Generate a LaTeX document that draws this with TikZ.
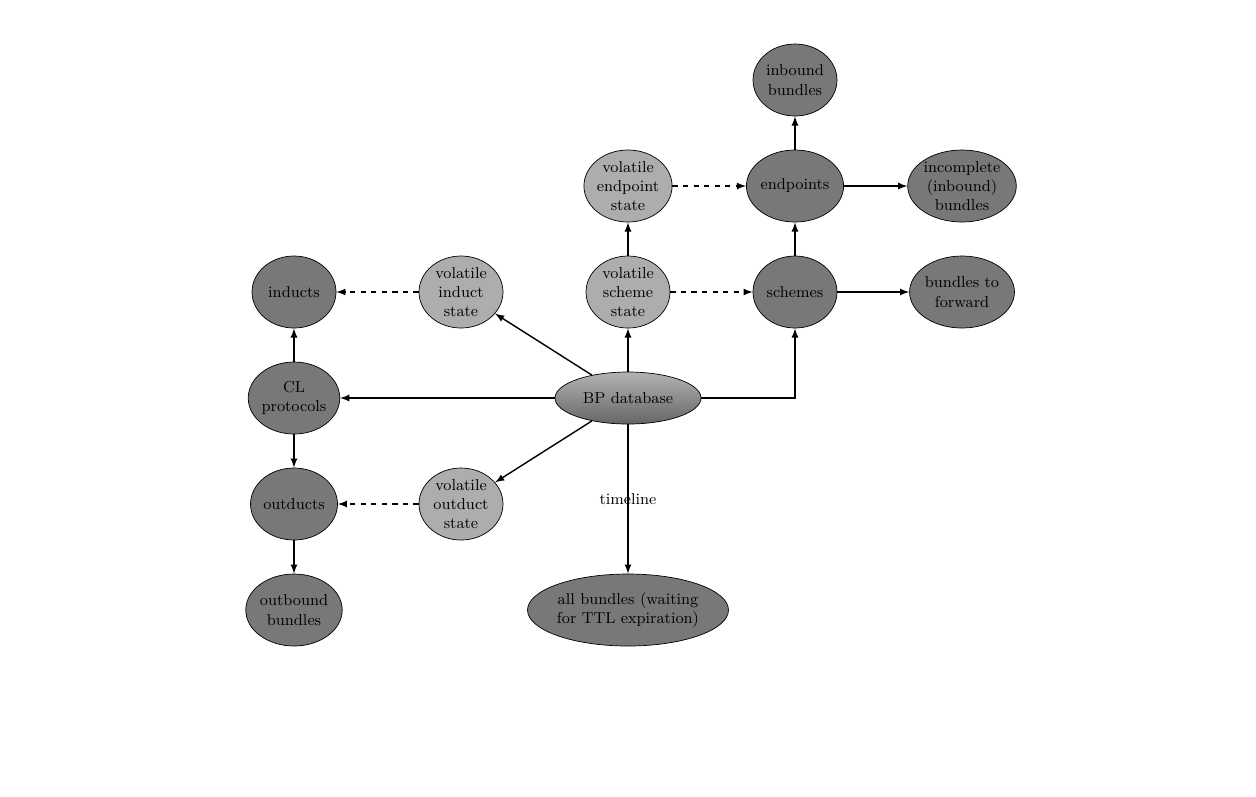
\documentclass[tikz,border=0pt]{standalone}
\usetikzlibrary{shapes.geometric,positioning}

\begin{document}
\begin{tikzpicture}[
    node distance=2.12cm and 3.34cm, on grid,
    every node/.style={ellipse, draw, thin, text=black, align=center, font=\small,
      minimum width=1.68cm, minimum height=1.44cm, inner sep=0pt},
    store/.style={fill=black!53},
    volatile/.style={fill=black!32},
    link/.style={-latex, thick},
    weak/.style={-latex, thick, dashed},
    ]
  \useasboundingbox (0,0) rectangle (25.12,-15.92);

  \node[top color=black!30, bottom color=black!60, minimum width=2.92cm, minimum height=1.04cm] (db) at (12.56,-7.96) {BP database};
  \node[volatile, above=of db] (vscheme) {volatile\\scheme\\state};
  \node[volatile, above=of vscheme] (vendpoint) {volatile\\endpoint\\state};
  \node[store, right=of vscheme] (schemes) {schemes};
  \node[store, above=of schemes] (endpoints) {endpoints};
  \node[store, above=of endpoints] (inbound) {inbound\\bundles};
  \node[store, right=of endpoints] (incomplete) {incomplete\\(inbound)\\bundles};
  \node[store, right=of schemes] (forward) {bundles to\\forward};
  \node[volatile, left=of vscheme] (vinduct) {volatile\\induct\\state};
  \node[store, left=of vinduct] (inducts) {inducts};
  \node[store, below=of inducts] (cl) {CL\\protocols};
  \node[store, below=of cl] (outducts) {outducts};
  \node[store, below=of outducts] (outbound) {outbound\\bundles};
  \node[volatile, right=of outducts] (voutduct) {volatile\\outduct\\state};
  \node[store, below=4.24cm of db] (all) {all bundles (waiting\\for TTL expiration)};

  % solid links
  \draw[link] (db) -- (vscheme);
  \draw[link] (vscheme) -- (vendpoint);
  \draw[link] (db.east) -| (schemes);
  \draw[link] (schemes) -- (endpoints);
  \draw[link] (endpoints) -- (inbound);
  \draw[link] (endpoints) -- (incomplete);
  \draw[link] (schemes) -- (forward);
  \draw[link] (db) -- (vinduct);
  \draw[link] (db) -- (voutduct);
  \draw[link] (db) -- (cl);
  \draw[link] (cl) -- (inducts);
  \draw[link] (cl) -- (outducts);
  \draw[link] (outducts) -- (outbound);
  \draw[link] (db) -- node[draw=none, fill=none, minimum size=0pt, inner sep=1pt] {timeline} (all);
  % volatile links
  \draw[weak] (vendpoint) -- (endpoints);
  \draw[weak] (vscheme) -- (schemes);
  \draw[weak] (vinduct) -- (inducts);
  \draw[weak] (voutduct) -- (outducts);
\end{tikzpicture}
\end{document}
